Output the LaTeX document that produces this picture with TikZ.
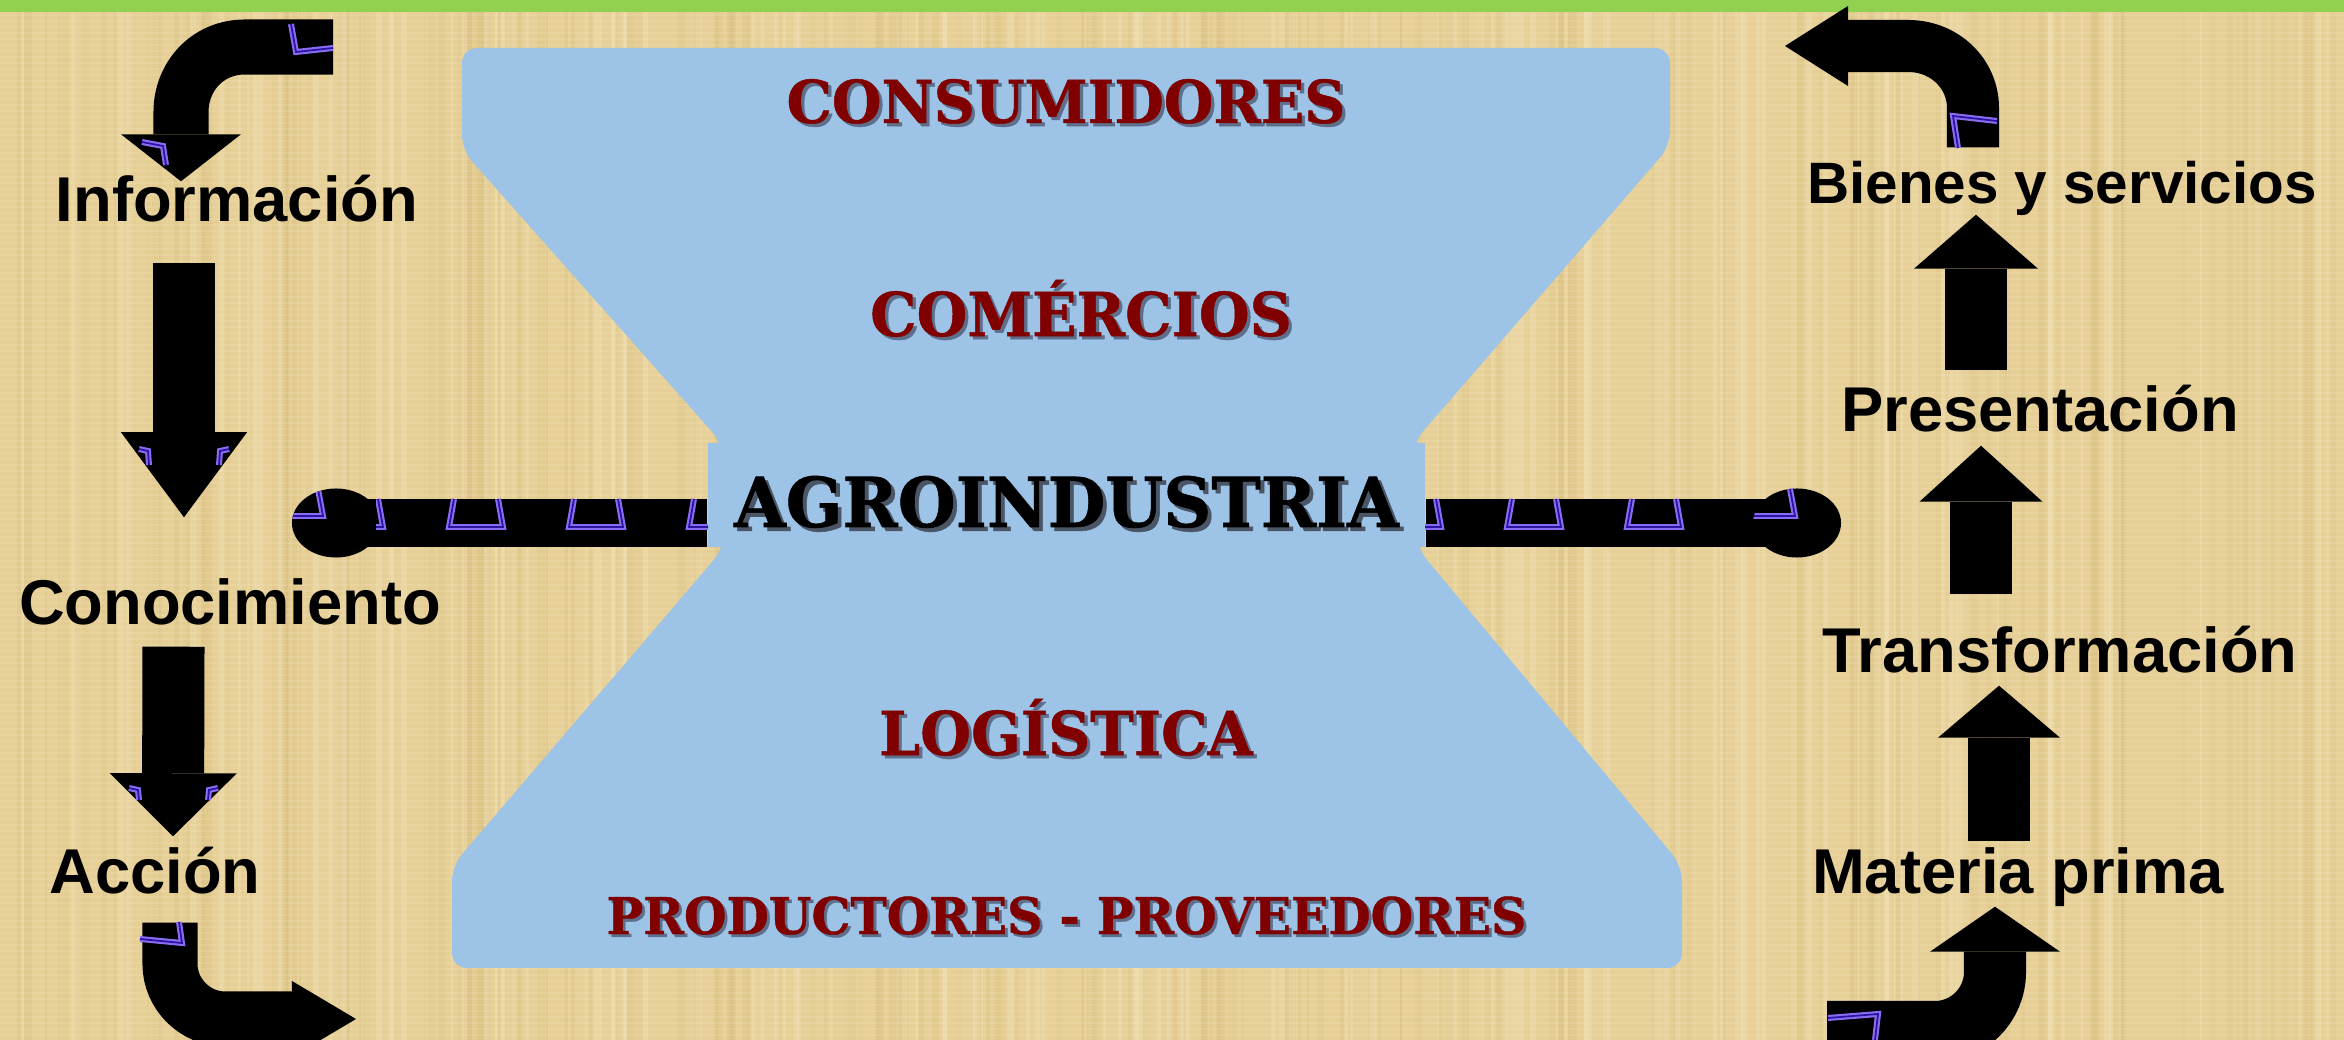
\documentclass[tikz,border=0pt]{standalone}
\usepackage{fontspec}
\usepackage{tikz}
\usetikzlibrary{arrows.meta,positioning,calc,shapes.geometric}
\newfontfamily\lblfont{Liberation Sans}
\newfontfamily\slabfont{DejaVu Serif}[FakeStretch=0.965, BoldFeatures={FakeBold=0.8}]
\definecolor{papyrus}{HTML}{E6D097}
\definecolor{fibre}{HTML}{C4A259}
\definecolor{fibrelight}{HTML}{F7EAC6}
\definecolor{bargreen}{HTML}{92D050}
\definecolor{glassblue}{HTML}{9DC3E6}
\definecolor{wine}{HTML}{800000}
\definecolor{redshadow}{HTML}{5E6F8C}
\definecolor{darkshadow}{HTML}{4A5566}
\definecolor{starpurple}{HTML}{8A6CF2}
\definecolor{starcore}{HTML}{2A14A0}

% text with a small drop shadow: colour, text, offset
\newcommand\shadowtxt[3]{\rlap{\hspace{#3}\raisebox{-#3}{\textcolor{#1}{#2}}}#2}

\begin{document}
\begin{tikzpicture}[x=0.01cm, y=-0.01cm,
  lbl/.style={font={\lblfont\bfseries\fontsize{18}{20}\selectfont}, inner sep=0pt, text height=12.8pt, text depth=0pt},
  glasstxt/.style={text=wine, font={\slabfont\bfseries\fontsize{17.2}{19}\selectfont}, inner sep=0pt},
  agrobox/.style={fill=glassblue, minimum width=7.17cm, minimum height=1.04cm, inner sep=0pt,
    text height=18.2pt, text depth=0pt, font={\slabfont\bfseries\fontsize{19.6}{22}\selectfont}},
  dotend/.style={ellipse, fill=black, minimum width=0.88cm, minimum height=0.69cm, inner sep=0pt},
  bar/.style={draw=black, line width=0.48cm},
  starcut/.style={draw=starpurple, line width=1.7pt, line join=miter,
    postaction={draw=starcore, line width=0.5pt}},
  blockarr/.style={draw=black, line width=0.62cm},
  bentarr/.style={draw=black, line width=0.55cm},
  headed/.style 2 args={-{Triangle[length=#1, width=#2, line width=0pt]}}]

  \useasboundingbox (0,0) rectangle (2344,1040);
  \clip (0,0) rectangle (2344,1040);

  % Papyrus background
  \fill[papyrus] (0,0) rectangle (2344,1040);
  \pgfmathsetseed{42}
  \foreach \i in {1,...,200}{
    \pgfmathsetmacro{\fx}{rnd*2344}
    \pgfmathsetmacro{\fw}{2+rnd*7}
    \pgfmathsetmacro{\fo}{0.04+rnd*0.10}
    \fill[fibre, opacity=\fo] (\fx,0) rectangle (\fx+\fw,1040);
  }
  \foreach \i in {1,...,120}{
    \pgfmathsetmacro{\fx}{rnd*2344}
    \pgfmathsetmacro{\fw}{2+rnd*6}
    \fill[fibrelight, opacity=0.25] (\fx,0) rectangle (\fx+\fw,1040);
  }
  \foreach \y in {3,9,...,1040}
    \draw[fibrelight, opacity=0.18, line width=0.4pt] (0,\y) -- (2344,\y);
  \fill[bargreen] (0,0) rectangle (2344,12);

  % Hourglass
  \fill[glassblue, rounded corners=0.15cm] (462,48) -- (1670,48) -- (1670,146) -- (1413,443)
    -- (1417,548) -- (1682,866) -- (1682,968) -- (452,968) -- (452,866) -- (724,548)
    -- (722,443) -- (462,150) -- cycle;

  % Labels in the hourglass
  \node[glasstxt, font={\slabfont\bfseries\fontsize{16.8}{19}\selectfont}] (Cons) at (1066,103)
    {\shadowtxt{redshadow}{CONSUMIDORES}{0.9pt}};
  \node[glasstxt] (Com) at (1081,310) {\shadowtxt{redshadow}{COMÉRCIOS}{0.9pt}};
  \node[agrobox] (Agro) at (1066.5,495) {\shadowtxt{darkshadow}{AGROINDUSTRIA}{1.1pt}};
  \node[glasstxt] (Log) at (1066,729) {\shadowtxt{redshadow}{LOGÍSTICA}{0.9pt}};
  \node[glasstxt, font={\slabfont\bfseries\fontsize{14.4}{16}\selectfont}] (Prod) at (1066.5,917)
    {\shadowtxt{redshadow}{PRODUCTORES - PROVEEDORES}{0.8pt}};

  % Side bars with round ends
  \node[dotend] (LD) at (336,523) {};
  \node[dotend] (RD) at (1797,523) {};
  \draw[bar] (LD.center) -- (LD -| Agro.west);
  \draw[bar] (RD.center) -- (RD -| Agro.east);
  \begin{scope}
    \clip (376,499) rectangle (708,547);
    \foreach \cx in {356,476,596,716}
      \draw[starcut] (\cx-22,499) -- (\cx-27,527) -- (\cx+27,527) -- (\cx+22,499);
  \end{scope}
  \begin{scope}
    \clip (1425,499) rectangle (1756,547);
    \foreach \cx in {1414,1534,1654}
      \draw[starcut] (\cx-22,499) -- (\cx-27,527) -- (\cx+27,527) -- (\cx+22,499);
  \end{scope}
  \begin{scope}
    \clip (LD.center) ellipse [x radius=44, y radius=34.5];
    \draw[starcut] (274,489) -- (269,516) -- (323,516) -- (318,489);
  \end{scope}
  \begin{scope}
    \clip (RD.center) ellipse [x radius=44, y radius=34.5];
    \draw[starcut] (1746,489) -- (1741,516) -- (1795,516) -- (1790,489);
  \end{scope}

  % Left column
  \node[lbl] (Inf) at (237,198.5) {Información};
  \node[lbl] (Con) at (230,601.5) {Conocimiento};
  \node[lbl] (Acc) at (155,870.5) {Acción};

  % Right column
  \node[lbl, font={\lblfont\bfseries\fontsize{16.6}{19}\selectfont}] (Bie) at (2062,181) {Bienes y servicios};
  \node[lbl] (Pre) at (2040,408.5) {Presentación};
  \node[lbl] (Tra) at (2060,649.5) {Transformación};
  \node[lbl] (Mat) at (2018,870.5) {Materia prima};

  % Straight arrows
  \draw[blockarr, headed={0.85cm}{1.26cm}] ($(Inf.south)+(-53,41)$) -- ($(Con.north)+(-46,-61)$);
  \draw[blockarr, headed={0.63cm}{1.27cm}] ($(Con.south)+(-56.5,22)$) -- ($(Acc.north)+(18,-11)$);
  \draw[blockarr, headed={0.54cm}{1.24cm}] ($(Pre.north)+(-64,-15)$) -- ($(Bie.south)+(-86,10.5)$);
  \draw[blockarr, headed={0.56cm}{1.23cm}] ($(Tra.north)+(-79,-32)$) -- ($(Pre.south)+(-59,14)$);
  \draw[blockarr, headed={0.52cm}{1.22cm}] ($(Mat.north)+(-19,-6)$) -- ($(Tra.south)+(-61,13)$);

  % Bent arrows
  \coordinate (TL) at (333,47);
  \coordinate (TR) at (1785,46);
  \coordinate (BL) at (356,1019);
  \coordinate (BR) at (1827,1032);
  \draw[bentarr, headed={0.47cm}{1.2cm}] (TL) -- (245,47) .. controls (207,47) and (181,77) .. (181,112)
    -- ($(Inf.north)+(-56,6)$);
  \draw[bentarr, line width=0.52cm, headed={0.63cm}{0.8cm}] ($(Bie.north)+(-89,-10.5)$) -- (1973,108)
    .. controls (1973,74) and (1945,46) .. (1908,46) -- (TR);
  \draw[bentarr, headed={0.64cm}{0.76cm}] ($(Acc.south)+(15,29)$) -- (170,964)
    .. controls (170,994) and (195,1019) .. (225,1019) -- (BL);
  \draw[bentarr, line width=0.62cm, headed={0.45cm}{1.3cm}] (BR) -- (1935,1032)
    .. controls (1968,1032) and (1995,1005) .. (1995,972) -- ($(Mat.south)+(-23,13)$);

  % Purple texture cut-outs on the arrows
  \draw[starcut] (291,24) -- (296,52) -- (333,48);
  \draw[starcut] (142,142) -- (163,146) -- (166,165);
  \draw[starcut] (1997,121) -- (1953,116) -- (1958,148);
  \draw[starcut] (140,939) -- (182,943) -- (179,922);
  \draw[starcut] (1828,1018) -- (1878,1014) -- (1875,1040);
  \draw[starcut] (139,449) -- (148,451) -- (149,465);
  \draw[starcut] (229,449) -- (220,451) -- (219,465);
  \draw[starcut] (129,788) -- (138,790) -- (139,800);
  \draw[starcut] (218,788) -- (209,790) -- (208,800);
\end{tikzpicture}
\end{document}
